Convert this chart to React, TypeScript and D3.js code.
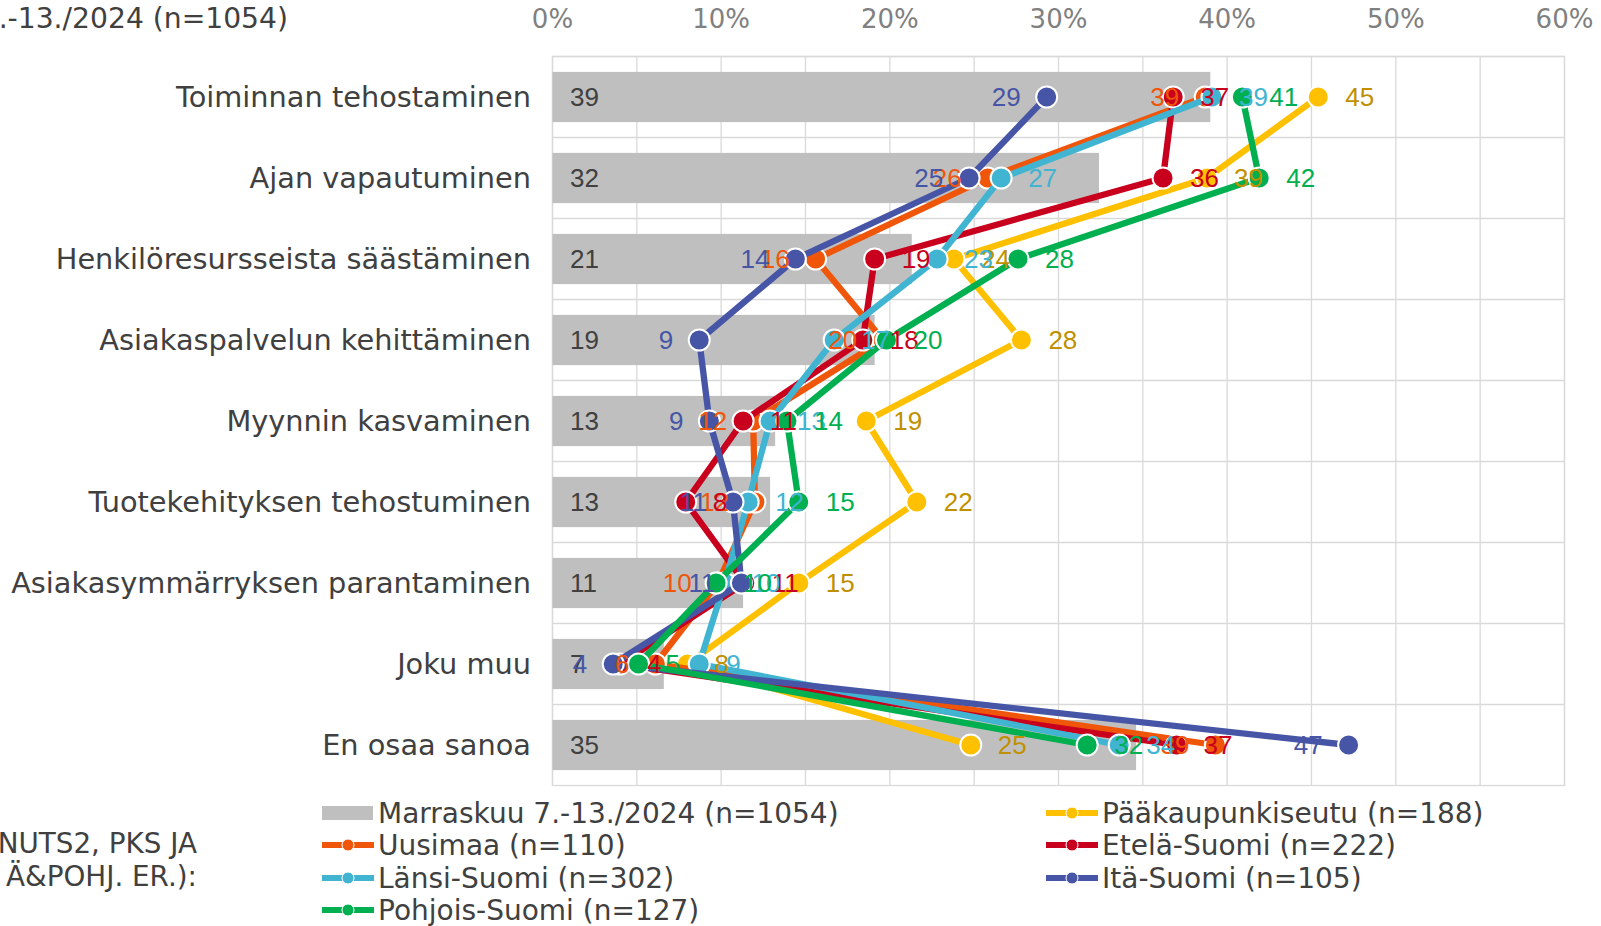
import React from 'react';
import * as d3 from 'd3';

const categories = [
	'Toiminnan tehostaminen',
	'Ajan vapautuminen',
	'Henkilöresursseista säästäminen',
	'Asiakaspalvelun kehittäminen',
	'Myynnin kasvaminen',
	'Tuotekehityksen tehostuminen',
	'Asiakasymmärryksen parantaminen',
	'Joku muu',
	'En osaa sanoa'
];

// bar series
const marraskuu = [39.0, 32.4, 21.3, 19.1, 13.2, 12.9, 11.3, 6.6, 34.6];

// line series
const paakaupunkiseutu = [45.4, 38.8, 23.8, 27.8, 18.6, 21.6, 14.6, 8.0, 24.8];
const uusimaa = [38.7, 25.8, 15.6, 19.6, 11.9, 12.0, 9.8, 6.1, 39.3];
const etelaSuomi = [36.8, 36.2, 19.1, 18.4, 11.3, 7.9, 11.4, 4.0, 37.0];
const lansiSuomi = [39.1, 26.6, 22.8, 16.7, 12.9, 11.6, 10.2, 8.7, 33.6];
const itaSuomi = [29.3, 24.7, 14.4, 8.7, 9.3, 10.7, 11.2, 3.6, 47.2];
const pohjoisSuomi = [40.9, 41.9, 27.6, 19.8, 13.9, 14.6, 9.7, 5.1, 31.7];

const xTicks = [0, 10, 20, 30, 40, 50, 60];

const series = [
	{ name: 'Pääkaupunkiseutu (n=188)', values: paakaupunkiseutu, color: '#FFC000', labelColor: '#BF9000', side: 'right' },
	{ name: 'Uusimaa (n=110)', values: uusimaa, color: '#F0560A', labelColor: '#F0560A', side: 'left' },
	{ name: 'Etelä-Suomi (n=222)', values: etelaSuomi, color: '#C8001E', labelColor: '#C8001E', side: 'right' },
	{ name: 'Länsi-Suomi (n=302)', values: lansiSuomi, color: '#41B4D2', labelColor: '#41B4D2', side: 'right' },
	{ name: 'Itä-Suomi (n=105)', values: itaSuomi, color: '#4655A5', labelColor: '#4655A5', side: 'left' },
	{ name: 'Pohjois-Suomi (n=127)', values: pohjoisSuomi, color: '#00B050', labelColor: '#00B050', side: 'right' }
];

const W = 1601;
const H = 926;
const left = 552.5;
const right = 1564.5;
const top = 56.5;
const bottom = 785.5;

const sans = 'DejaVu Sans, Verdana, sans-serif';
const arial = 'Liberation Sans, Arial, sans-serif';

export default function App() {
	const x = d3.scaleLinear().domain([0, 60]).range([left, right]);
	const y = d3.scaleBand().domain(categories).range([top, bottom]).padding(0);
	const band = y.bandwidth();
	const barH = band * 0.62;
	const cy = (c: string) => (y(c) as number) + band / 2;

	const line = d3.line<number>()
		.x(d => x(d))
		.y((d, i) => cy(categories[i]));

	const grid5 = d3.range(0, 61, 5);

	// legend: two columns, filled row by row
	const legendItems = [{ name: 'Marraskuu 7.-13./2024 (n=1054)', bar: true, color: '#BFBFBF' }]
		.concat(series.map(s => ({ name: s.name, bar: false, color: s.color })) as any);
	const legendRows = [813, 845, 878, 910];

	return (
		<div style={{ position: 'absolute', left: 0, top: 0 }}>
			<svg width={W} height={H} style={{ display: 'block', background: '#fff' }}>
				<text x={288} y={18} textAnchor="end" dominantBaseline="central"
					fontFamily={sans} fontSize={28.2} fill="#404040">.-13./2024 (n=1054)</text>

				{/* grid */}
				{grid5.map(v => (
					<line key={'gx' + v} x1={x(v)} x2={x(v)} y1={top} y2={bottom} stroke="#D9D9D9" strokeWidth={1.3} />
				))}
				{categories.map(c => (
					<line key={'gy' + c} x1={left} x2={right} y1={y(c)} y2={y(c)} stroke="#D9D9D9" strokeWidth={1.3} />
				))}
				<rect x={left} y={top} width={right - left} height={bottom - top} fill="none" stroke="#D9D9D9" strokeWidth={1.3} />

				{/* x axis labels on top */}
				{xTicks.map(t => (
					<text key={'t' + t} x={x(t)} y={19} textAnchor="middle" dominantBaseline="central"
						fontFamily={sans} fontSize={26} fill="#808080">{t}%</text>
				))}

				{/* category labels */}
				{categories.map(c => (
					<text key={'c' + c} x={531} y={cy(c)} textAnchor="end" dominantBaseline="central"
						fontFamily={sans} fontSize={28.8} fill="#404040">{c}</text>
				))}

				{/* bars */}
				{categories.map((c, i) => (
					<rect key={'b' + c} x={x(0)} y={cy(c) - barH / 2} width={x(marraskuu[i]) - x(0)} height={barH} fill="#BFBFBF" />
				))}

				{/* lines + markers */}
				{series.map(s => (
					<g key={s.name}>
						<path d={line(s.values) as string} fill="none" stroke={s.color} strokeWidth={6.3} strokeLinejoin="round" />
						{s.values.map((v, i) => (
							<circle key={i} cx={x(v)} cy={cy(categories[i])} r={10.5} fill={s.color} stroke="#fff" strokeWidth={2} />
						))}
					</g>
				))}

				{/* bar labels */}
				{categories.map((c, i) => (
					<text key={'bl' + c} x={570} y={cy(c)} dominantBaseline="central"
						fontFamily={arial} fontSize={26} fill="#404040">{Math.round(marraskuu[i])}</text>
				))}

				{/* series labels */}
				{series.map(s => (
					<g key={'l' + s.name}>
						{s.values.map((v, i) => (
							<text key={i} x={s.side === 'right' ? x(v) + 27 : x(v) - 26} y={cy(categories[i])}
								textAnchor={s.side === 'right' ? 'start' : 'end'} dominantBaseline="central"
								fontFamily={arial} fontSize={26} fill={s.labelColor}>{Math.round(v)}</text>
						))}
					</g>
				))}

				{/* left note */}
				<text x={197} y={843} textAnchor="end" dominantBaseline="central" fontFamily={sans} fontSize={27.8} fill="#404040">NUTS2, PKS JA</text>
				<text x={197} y={876} textAnchor="end" dominantBaseline="central" fontFamily={sans} fontSize={27.8} fill="#404040">Ä&amp;POHJ. ER.):</text>

				{/* legend */}
				{legendItems.map((it: any, k: number) => {
					const col = k % 2;
					const row = Math.floor(k / 2);
					const sx = col === 0 ? 322 : 1046;
					const ly = legendRows[row];
					return (
						<g key={'lg' + k}>
							{it.bar
								? <rect x={sx} y={ly - 7} width={51} height={14} fill={it.color} />
								: <g>
									<line x1={sx} x2={sx + 52} y1={ly} y2={ly} stroke={it.color} strokeWidth={6} />
									<circle cx={sx + 26} cy={ly} r={6} fill={it.color} stroke="#fff" strokeWidth={1} />
								</g>}
							<text x={sx + 56} y={ly} dominantBaseline="central" fontFamily={sans} fontSize={28} fill="#404040">{it.name}</text>
						</g>
					);
				})}
			</svg>
		</div>
	);
}
